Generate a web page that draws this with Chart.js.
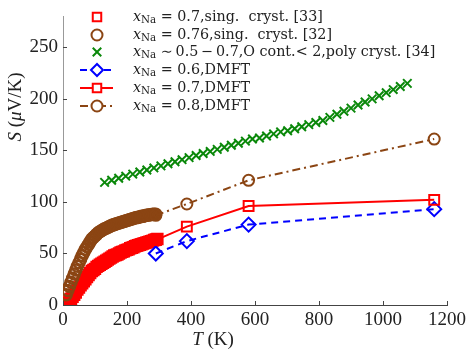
<!DOCTYPE html>
<html>
<head>
<meta charset="utf-8">
<script src="https://cdn.jsdelivr.net/npm/chart.js@4.4.1/dist/chart.umd.min.js"></script>
<style>
  html, body { margin: 0; padding: 0; background: #fff; }
  #wrap { width: 470px; height: 354px; }
</style>
</head>
<body>
<div id="wrap"><canvas id="chart" width="470" height="354"></canvas></div>
<script>
// experiment: x_Na = 0.7, single crystal [33]
const expRedT = [10, 15, 20, 25, 30, 35, 40, 45, 50, 55, 60, 65, 70, 75, 80, 85, 90, 95, 100, 105, 110, 115, 120, 125, 130, 135, 140, 145, 150, 155, 160, 165, 170, 175, 180, 185, 190, 195, 200, 205, 210, 215, 220, 225, 230, 235, 240, 245, 250, 255, 260, 265, 270, 275, 280, 285, 290, 295];
const expRedS = [1, 2, 4, 6, 8, 10, 12, 15, 17, 19, 21, 23, 25, 27, 29, 31, 33, 34, 35, 37, 38, 39, 40, 41, 42, 43, 44, 45, 46, 47, 48, 48.5, 49, 50, 51, 51.5, 52, 53, 53.5, 54, 55, 55.5, 56, 57, 57.5, 58, 58.5, 59, 59.5, 60, 60.5, 61, 61.5, 62, 62.5, 63, 63.5, 64];

// experiment: x_Na = 0.76, single crystal [32]
const expBrownT = [10, 15, 20, 25, 30, 35, 40, 45, 50, 55, 60, 65, 70, 75, 80, 85, 90, 95, 100, 105, 110, 115, 120, 125, 130, 135, 140, 145, 150, 155, 160, 165, 170, 175, 180, 185, 190, 195, 200, 205, 210, 215, 220, 225, 230, 235, 240, 245, 250, 255, 260, 265, 270, 275, 280, 285, 290];
const expBrownS = [10, 14, 18, 22, 26, 30, 34, 37.5, 41, 44.5, 48, 51, 54, 56.5, 59, 61.5, 64, 65.5, 67, 68.5, 70, 71, 72, 73, 74, 74.5, 75.5, 76, 77, 77.5, 78, 78.5, 79, 79.5, 80, 80.5, 81, 81.5, 82, 82.5, 83, 83.5, 84, 84.5, 85, 85, 85.5, 86, 86, 86.5, 87, 87, 87.5, 87.5, 88, 88, 88];

// experiment: x_Na ~ 0.5-0.7, poly crystal [34]
const polyT = [130, 152, 174, 196, 218, 240, 262, 284, 306, 328, 350, 372, 394, 416, 438, 460, 482, 504, 526, 548, 570, 592, 614, 636, 658, 680, 702, 724, 746, 768, 790, 812, 834, 856, 878, 900, 922, 944, 966, 988, 1010, 1032, 1054, 1076];
const polyS = [119, 121, 123, 125, 127, 129, 131, 133, 135, 137, 139, 141, 143, 145, 147, 149, 151, 153, 155, 157, 159, 161, 162, 164, 166, 168, 169, 171, 173, 175, 177, 179, 182, 185, 188, 191, 194, 197, 200, 203, 206, 209, 212, 215];

// DMFT
const dmftT = [290, 387, 580, 1160];
const dmft06 = [50, 62, 78, 93];
const dmft07 = [63, 76, 96, 102];
const dmft08 = [87, 98, 121, 161];

const xTicks = [0, 200, 400, 600, 800, 1000, 1200];
const yTicks = [0, 50, 100, 150, 200, 250];

const legendLabels = [
  " = 0.7,sing.  cryst. [33]",
  " = 0.76,sing.  cryst. [32]",
  " \u223C\u20090.5\u2009\u2212\u20090.7,O cont.< 2,poly cryst. [34]",
  " = 0.6,DMFT",
  " = 0.7,DMFT",
  " = 0.8,DMFT"
];

const SERIF = "'Liberation Serif', 'DejaVu Serif', serif";
const LEG_SERIF = "'DejaVu Serif', serif";
const INK = "#222";

const pts = (xs, ys) => xs.map((x, i) => ({ x: x, y: ys[i] }));

const datasets = [
  { data: pts(expRedT, expRedS), showLine: false, pointStyle: "rect", pointRadius: 7,
    borderColor: "#ff0000", pointBorderWidth: 2.5, backgroundColor: "transparent", order: 6 },
  { data: pts(expBrownT, expBrownS), showLine: false, pointStyle: "circle", pointRadius: 5.5,
    borderColor: "#8b4513", pointBorderWidth: 2.5, backgroundColor: "transparent", order: 5 },
  { data: pts(polyT, polyS), showLine: false, pointStyle: "crossRot", pointRadius: 6,
    borderColor: "#0a880a", pointBorderWidth: 2, backgroundColor: "transparent", order: 4 },
  { data: pts(dmftT, dmft06), showLine: true, pointStyle: "rectRot", pointRadius: 7,
    borderColor: "#0000ff", borderWidth: 2, borderDash: [7, 5], pointBorderWidth: 2,
    backgroundColor: "transparent", order: 3 },
  { data: pts(dmftT, dmft07), showLine: true, pointStyle: "rect", pointRadius: 7,
    borderColor: "#ff0000", borderWidth: 2, pointBorderWidth: 2,
    backgroundColor: "transparent", order: 2 },
  { data: pts(dmftT, dmft08), showLine: true, pointStyle: "circle", pointRadius: 5.5,
    borderColor: "#8b4513", borderWidth: 2, borderDash: [8, 4, 2, 4], pointBorderWidth: 2,
    backgroundColor: "transparent", order: 1 }
];

// draws mixed italic / subscript pieces left to right
function drawPieces(ctx, pieces, x, y, size, fam) {
  fam = fam || SERIF;
  pieces.forEach(p => {
    const fs = p.sub ? size * 0.72 : size;
    ctx.font = (p.italic ? "italic " : "") + fs + "px " + fam;
    ctx.fillText(p.t, x, p.sub ? y + size * 0.22 : y);
    x += ctx.measureText(p.t).width;
  });
  return x;
}

function piecesWidth(ctx, pieces, size) {
  let w = 0;
  pieces.forEach(p => {
    const fs = p.sub ? size * 0.72 : size;
    ctx.font = (p.italic ? "italic " : "") + fs + "px " + SERIF;
    w += ctx.measureText(p.t).width;
  });
  return w;
}

const decor = {
  id: "decor",
  afterDraw(chart) {
    const ctx = chart.ctx;
    const xs = chart.scales.x, ys = chart.scales.y;
    ctx.save();

    // inward ticks
    ctx.strokeStyle = "#444";
    ctx.lineWidth = 1;
    ctx.beginPath();
    xTicks.forEach(v => {
      const px = Math.round(xs.getPixelForValue(v)) + 0.5;
      ctx.moveTo(px, ys.bottom);
      ctx.lineTo(px, ys.bottom - 4);
    });
    yTicks.forEach(v => {
      const py = Math.round(ys.getPixelForValue(v)) + 0.5;
      ctx.moveTo(xs.left, py);
      ctx.lineTo(xs.left + 4, py);
    });
    ctx.stroke();

    // axis titles
    ctx.fillStyle = INK;
    ctx.textBaseline = "middle";
    ctx.textAlign = "left";
    const xt = [{ t: "T", italic: true }, { t: " (K)" }];
    const xw = piecesWidth(ctx, xt, 19);
    drawPieces(ctx, xt, 213 - xw / 2, 340, 19);

    const yt = [{ t: "S", italic: true }, { t: " (" }, { t: "\u03BC", italic: true }, { t: "V/K)" }];
    const yw = piecesWidth(ctx, yt, 19);
    ctx.save();
    ctx.translate(16, 107);
    ctx.rotate(-Math.PI / 2);
    drawPieces(ctx, yt, -yw / 2, 0, 19);
    ctx.restore();

    // legend
    const rowY = [17, 35, 52, 70, 88, 106];
    chart.data.datasets.forEach((ds, i) => {
      const y = rowY[i];
      ctx.save();
      ctx.strokeStyle = ds.borderColor;
      if (ds.showLine) {
        ctx.lineWidth = 2;
        ctx.setLineDash(ds.borderDash || []);
        ctx.beginPath();
        ctx.moveTo(80, y);
        ctx.lineTo(113, y);
        ctx.stroke();
      }
      ctx.setLineDash([]);
      ctx.lineWidth = 2;
      ctx.fillStyle = ds.showLine ? "#fff" : "transparent";
      Chart.helpers.drawPoint(ctx, { pointStyle: ds.pointStyle, radius: Math.min(ds.pointRadius, 6), rotation: 0, borderWidth: 2 }, 97, y);
      ctx.restore();

      ctx.fillStyle = INK;
      drawPieces(ctx, [{ t: "x", italic: true }, { t: "Na", sub: true }, { t: legendLabels[i] }], 133, y, 14.3, LEG_SERIF);
    });
    ctx.restore();
  }
};

new Chart(document.getElementById("chart"), {
  type: "scatter",
  data: { datasets: datasets },
  options: {
    responsive: false,
    animation: false,
    devicePixelRatio: 1,
    layout: { padding: { top: 1, right: 19, left: 0, bottom: 0 } },
    plugins: { legend: { display: false }, tooltip: { enabled: false } },
    scales: {
      x: {
        type: "linear", min: 0, max: 1200,
        afterBuildTicks: s => { s.ticks = xTicks.map(v => ({ value: v })); },
        afterFit: s => { s.height = 49; },
        grid: { display: false, drawTicks: false },
        border: { display: true, color: "#444", width: 1 },
        ticks: { padding: 4, color: INK, font: { family: SERIF, size: 19 }, maxRotation: 0,
                 callback: v => String(v) }
      },
      y: {
        type: "linear", min: 0, max: 280,
        afterBuildTicks: s => { s.ticks = yTicks.map(v => ({ value: v })); },
        afterFit: s => { s.width = 63; },
        grid: { display: false, drawTicks: false },
        border: { display: true, color: "#999", width: 1 },
        ticks: { padding: 5, color: INK, font: { family: SERIF, size: 19 }, callback: v => String(v) }
      }
    }
  },
  plugins: [decor]
});
</script>
</body>
</html>
